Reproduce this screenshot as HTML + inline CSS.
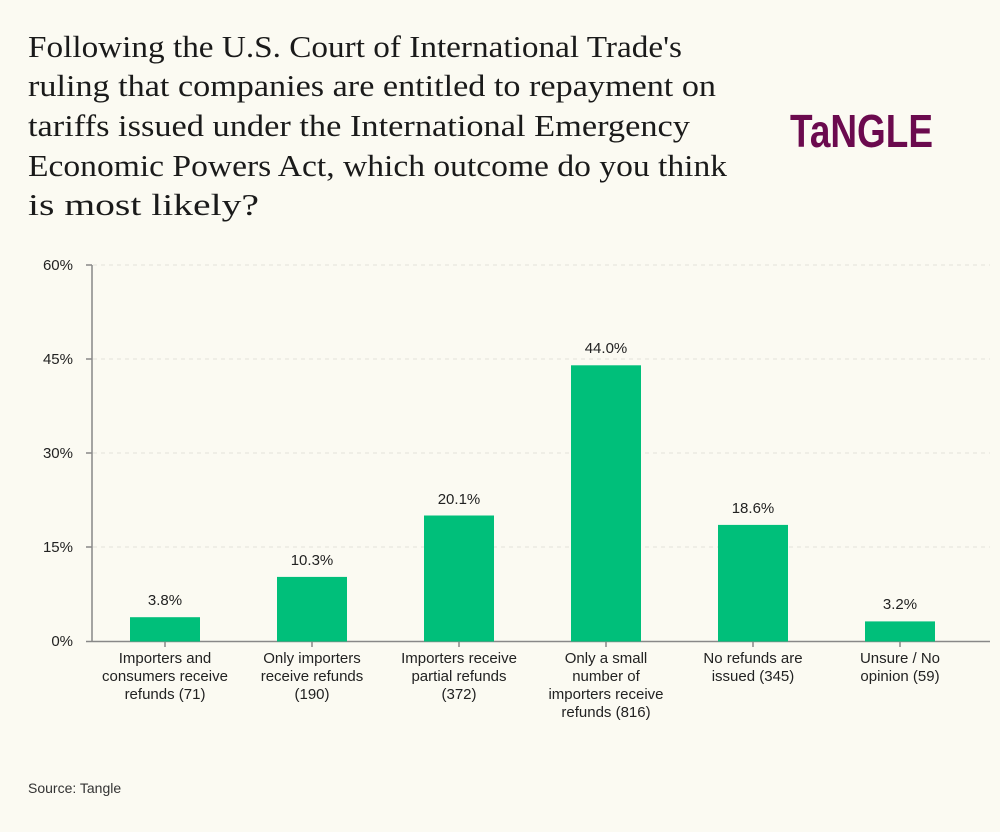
<!DOCTYPE html>
<html><head><meta charset="utf-8"><style>
body{margin:0;background:#fbfaf2;width:1000px;height:827px;overflow:hidden}
</style></head><body>
<svg width="1000" height="827" xmlns="http://www.w3.org/2000/svg">
<rect width="1000" height="827" fill="#fbfaf2"/>
<g font-family="Liberation Serif, serif" font-size="31" fill="#1a1a1a" lengthAdjust="spacingAndGlyphs">
<text x="28" y="57" textLength="654" lengthAdjust="spacingAndGlyphs">Following the U.S. Court of International Trade's</text>
<text x="28" y="96" textLength="688" lengthAdjust="spacingAndGlyphs">ruling that companies are entitled to repayment on</text>
<text x="28" y="136" textLength="662" lengthAdjust="spacingAndGlyphs">tariffs issued under the International Emergency</text>
<text x="28" y="176" textLength="699" lengthAdjust="spacingAndGlyphs">Economic Powers Act, which outcome do you think</text>
<text x="28" y="215" textLength="231" lengthAdjust="spacingAndGlyphs">is most likely?</text>
</g>
<text x="790" y="147" font-family="Liberation Sans, sans-serif" font-weight="bold" font-size="46" fill="#6b0a4e" textLength="143" lengthAdjust="spacingAndGlyphs">TaNGLE</text>
<g stroke="#e3e2da" stroke-dasharray="4,4">
<line x1="93" x2="990" y1="265" y2="265"/><line x1="93" x2="990" y1="359" y2="359"/>
<line x1="93" x2="990" y1="453" y2="453"/><line x1="93" x2="990" y1="547" y2="547"/>
</g>
<g stroke="#888" stroke-width="1.5" fill="none">
<line x1="92" y1="265" x2="92" y2="641"/>
<line x1="86" y1="641.5" x2="990" y2="641.5"/>
<line x1="86" y1="265" x2="92" y2="265"/><line x1="86" y1="359" x2="92" y2="359"/>
<line x1="86" y1="453" x2="92" y2="453"/><line x1="86" y1="547" x2="92" y2="547"/>
<line x1="165" y1="641" x2="165" y2="647"/><line x1="312" y1="641" x2="312" y2="647"/>
<line x1="459" y1="641" x2="459" y2="647"/><line x1="606" y1="641" x2="606" y2="647"/>
<line x1="753" y1="641" x2="753" y2="647"/><line x1="900" y1="641" x2="900" y2="647"/>
</g>
<g font-family="Liberation Sans, sans-serif" font-size="15" fill="#222" text-anchor="end">
<text x="73" y="270">60%</text><text x="73" y="364">45%</text><text x="73" y="458">30%</text>
<text x="73" y="552">15%</text><text x="73" y="646">0%</text>
</g>
<g fill="#00bf7a">
<rect x="130" y="617.2" width="70" height="24.3"/>
<rect x="277" y="576.9" width="70" height="64.6"/>
<rect x="424" y="515.5" width="70" height="126"/>
<rect x="571" y="365.3" width="70" height="276.2"/>
<rect x="718" y="524.9" width="70" height="116.6"/>
<rect x="865" y="621.4" width="70" height="20.1"/>
</g>
<g font-family="Liberation Sans, sans-serif" font-size="15" fill="#222" text-anchor="middle">
<text x="165" y="605">3.8%</text><text x="312" y="565">10.3%</text><text x="459" y="504">20.1%</text>
<text x="606" y="353">44.0%</text><text x="753" y="513">18.6%</text><text x="900" y="609">3.2%</text>
<text x="165" y="663">Importers and</text><text x="165" y="681">consumers receive</text><text x="165" y="699">refunds (71)</text>
<text x="312" y="663">Only importers</text><text x="312" y="681">receive refunds</text><text x="312" y="699">(190)</text>
<text x="459" y="663">Importers receive</text><text x="459" y="681">partial refunds</text><text x="459" y="699">(372)</text>
<text x="606" y="663">Only a small</text><text x="606" y="681">number of</text><text x="606" y="699">importers receive</text><text x="606" y="717">refunds (816)</text>
<text x="753" y="663">No refunds are</text><text x="753" y="681">issued (345)</text>
<text x="900" y="663">Unsure / No</text><text x="900" y="681">opinion (59)</text>
</g>
<text x="28" y="793" font-family="Liberation Sans, sans-serif" font-size="14" fill="#333">Source: Tangle</text>
</svg>
</body></html>
